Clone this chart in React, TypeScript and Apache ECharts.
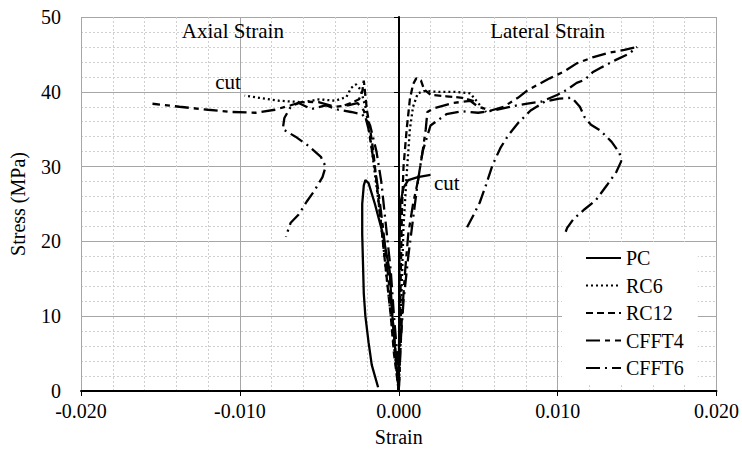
import React, { useEffect, useRef } from "react";
import * as echarts from "echarts";

type P = [number, number];

// ---------- data (strain, stress MPa) ----------
const specimenNames = ["PC", "RC6", "RC12", "CFFT4", "CFFT6"];

const pcAxial: P[] = [
  [0, 0], [-0.0002, 5], [-0.0004, 10], [-0.00057, 16], [-0.001, 21], [-0.0015, 25],
  [-0.0019, 27.8], [-0.0021, 28.2], [-0.0022, 27.5], [-0.0023, 25], [-0.0023, 21],
  [-0.00225, 17], [-0.0022, 13], [-0.0021, 10], [-0.0019, 6.5], [-0.0017, 3.5], [-0.0013, 0.5],
];
const pcLateral: P[] = [
  [0, 0], [0.00003, 10], [0.00005, 20], [0.0001, 25], [0.0003, 27.2], [0.0006, 28.2],
  [0.0012, 28.6], [0.002, 28.9],
];

const rc6Axial: P[] = [
  [0, 0], [-0.0003, 6], [-0.0006, 12], [-0.0009, 18], [-0.0012, 24], [-0.0015, 29],
  [-0.0018, 34], [-0.0021, 38], [-0.0024, 40.3], [-0.0027, 41], [-0.003, 40.5],
  [-0.0033, 39.3], [-0.004, 38.8], [-0.005, 39], [-0.006, 38.6], [-0.0075, 38.8],
  [-0.0088, 39.2], [-0.0097, 39.5],
];
const rc6Lateral: P[] = [
  [0, 0], [0.0001, 8], [0.0002, 15], [0.0003, 22], [0.0005, 29], [0.0007, 35],
  [0.0009, 38], [0.0012, 39.8], [0.0016, 40.1], [0.0025, 40], [0.0035, 40],
  [0.0045, 39.8], [0.005, 38.5], [0.0055, 37.3],
];

const rc12Axial: P[] = [
  [0, 0], [-0.0003, 5], [-0.0005, 10], [-0.0008, 16], [-0.0011, 22], [-0.0014, 28],
  [-0.0016, 32], [-0.0018, 35], [-0.002, 37.5], [-0.0021, 39.5], [-0.0022, 41.5],
  [-0.0023, 40], [-0.0025, 39], [-0.003, 38.5], [-0.0034, 38.2],
];
const rc12Lateral: P[] = [
  [0, 0], [0.00005, 6], [0.0001, 12], [0.00015, 18], [0.0002, 24], [0.0003, 30],
  [0.0005, 35], [0.0007, 39], [0.0009, 41], [0.0011, 41.8], [0.0014, 41.5],
  [0.0016, 40.3], [0.002, 39.6], [0.003, 39.4], [0.004, 39.2], [0.0048, 38.7],
];

const cfft4Axial: P[] = [
  [0, 0], [-0.0002, 5], [-0.0004, 10], [-0.0007, 16], [-0.001, 22], [-0.0013, 27],
  [-0.0016, 31], [-0.0019, 35], [-0.0022, 37.5], [-0.0026, 38.5], [-0.0032, 38.2],
  [-0.004, 38], [-0.005, 38.6], [-0.006, 38.7], [-0.0068, 38.2], [-0.0078, 37.6],
  [-0.009, 37.2], [-0.0105, 37.3], [-0.012, 37.6], [-0.0138, 38], [-0.0155, 38.4],
];
const cfft4Lateral: P[] = [
  [0, 0], [0.0001, 5], [0.0002, 10], [0.0004, 16], [0.0006, 21], [0.0009, 25],
  [0.0012, 28], [0.0015, 32], [0.0017, 35], [0.0018, 37.3], [0.0022, 37.8],
  [0.0034, 38.5], [0.0045, 38.8], [0.005, 38], [0.0058, 37.5], [0.0066, 38],
  [0.0075, 39.2], [0.0081, 40.2], [0.0088, 41], [0.0095, 41.8], [0.0104, 42.7],
  [0.0112, 43.8], [0.0122, 44.6], [0.0132, 45.2], [0.0142, 45.6], [0.015, 46],
];

const cfft6Axial: P[] = [
  [0, 0], [-0.0001, 5], [-0.0003, 10], [-0.0005, 16], [-0.0008, 22], [-0.0011, 28],
  [-0.0014, 32], [-0.0018, 35.5], [-0.0023, 37], [-0.003, 37.3], [-0.0038, 37.6],
  [-0.0046, 38.2], [-0.0055, 37.7], [-0.0063, 38.5], [-0.0068, 38], [-0.0072, 36.5],
  [-0.0073, 35], [-0.0065, 34], [-0.0057, 32.8], [-0.0049, 31.3], [-0.0046, 30],
  [-0.0048, 28.6], [-0.0053, 26.8], [-0.0058, 25.3], [-0.0063, 23.6], [-0.0068, 22.5],
  [-0.007, 21.3], [-0.0071, 20.6],
];
const cfft6Lateral: P[] = [
  [0, 0], [0.0001, 6], [0.0003, 12], [0.0006, 18], [0.0009, 23], [0.0012, 28],
  [0.0015, 32], [0.002, 35.5], [0.003, 37], [0.004, 37.4], [0.005, 37.2], [0.006, 37.5],
  [0.007, 38], [0.008, 38.4], [0.009, 38.7], [0.01, 39.6], [0.0106, 40.3], [0.0112, 41.2],
  [0.0117, 41.6], [0.0122, 42.6], [0.0128, 43.3], [0.0137, 44.3], [0.0145, 45.1], [0.015, 46],
];
const cfft6LateralB: P[] = [
  [0.0043, 21.9], [0.0047, 23.5], [0.0051, 25.2], [0.0055, 27.6], [0.0059, 30.2],
  [0.0064, 32.5], [0.0069, 34.2], [0.0075, 35.8], [0.0083, 37.5], [0.0092, 38.7],
  [0.0101, 39.1], [0.0109, 39.2], [0.0114, 38], [0.0117, 36.6], [0.0121, 35.6],
  [0.0127, 34.8], [0.0134, 33.3], [0.0139, 31.8], [0.014, 30.7], [0.0137, 29.3],
  [0.0131, 27.5], [0.0124, 25.5], [0.0117, 24.3], [0.011, 23], [0.0106, 21.8], [0.0104, 20.7],
];

// axis ranges
const xMin = -0.02, xMax = 0.02, xStep = 0.01;
const yMin = 0, yMax = 50, yStep = 10;

// text annotations in data coordinates
const annotations: { text: string; x: number; y: number }[] = [
  { text: "Axial Strain", x: -0.01044, y: 48.1 },
  { text: "Lateral Strain", x: 0.00937, y: 48.1 },
  { text: "cut", x: -0.01075, y: 41.3 },
  { text: "cut", x: 0.00302, y: 27.8 },
];

const FONT = "Liberation Serif";
const FS = 20;

const dashStyles: Record<string, any> = {
  PC: "solid",
  RC6: [2, 3],
  RC12: [7, 4],
  CFFT4: [14, 5, 5, 5],
  CFFT6: [14, 5, 2, 5],
};

const seriesSets: { name: string; data: P[] }[] = [
  { name: "PC", data: pcAxial },
  { name: "PC", data: pcLateral },
  { name: "RC6", data: rc6Axial },
  { name: "RC6", data: rc6Lateral },
  { name: "RC12", data: rc12Axial },
  { name: "RC12", data: rc12Lateral },
  { name: "CFFT4", data: cfft4Axial },
  { name: "CFFT4", data: cfft4Lateral },
  { name: "CFFT6", data: cfft6Axial },
  { name: "CFFT6", data: cfft6Lateral },
  { name: "CFFT6", data: cfft6LateralB },
];

export default function App() {
  const ref = useRef<HTMLDivElement>(null);
  useEffect(() => {
    if (!ref.current) return;
    const chart = echarts.init(ref.current, undefined, { renderer: "svg" });
    const gridLeft = 81, gridRight = 25;
    const plotW = 742 - gridLeft - gridRight;
    const axisText = { fontFamily: FONT, fontSize: FS, color: "#000" };
    const option: any = {
      animation: false,
      backgroundColor: "#fff",
      textStyle: { fontFamily: FONT, fontSize: FS },
      grid: { left: gridLeft, right: gridRight, top: 17, bottom: 63, containLabel: false },
      xAxis: {
        type: "value",
        min: xMin,
        max: xMax,
        interval: xStep,
        name: "Strain",
        nameLocation: "middle",
        nameGap: 36,
        nameTextStyle: axisText,
        axisLine: { onZero: false, lineStyle: { color: "#000", width: 2 } },
        axisTick: { show: true, length: 5, lineStyle: { color: "#000", width: 1 } },
        axisLabel: { ...axisText, margin: 10, formatter: (v: number) => v.toFixed(3) },
        splitLine: { show: true, lineStyle: { color: "#a6a6a6", width: 1 } },
        minorTick: { show: false, splitNumber: 5 },
        minorSplitLine: { show: true, lineStyle: { color: "#cfcfcf", width: 1, type: [2, 2] } },
      },
      yAxis: [
        {
          type: "value",
          min: yMin,
          max: yMax,
          interval: yStep,
          name: "Stress (MPa)",
          nameLocation: "middle",
          nameGap: 53,
          nameTextStyle: axisText,
          axisLine: { show: false },
          axisTick: { show: false },
          axisLabel: { ...axisText, margin: 20 },
          splitLine: { show: true, lineStyle: { color: "#a6a6a6", width: 1 } },
          minorTick: { show: false, splitNumber: 5 },
          minorSplitLine: { show: true, lineStyle: { color: "#cfcfcf", width: 1, type: [2, 2] } },
        },
        {
          type: "value",
          min: yMin,
          max: yMax,
          interval: yStep,
          position: "left",
          offset: -plotW / 2,
          axisLine: { show: true, onZero: false, lineStyle: { color: "#000", width: 2 } },
          axisTick: { show: true, length: 5, lineStyle: { color: "#000", width: 1 } },
          axisLabel: { show: false },
          splitLine: { show: false },
        },
      ],
      legend: {
        orient: "vertical",
        left: 562,
        top: 242,
        data: specimenNames,
        backgroundColor: "#fff",
        padding: [6, 14, 6, 23],
        itemWidth: 35,
        itemHeight: 14,
        itemGap: 7.5,
        itemStyle: { opacity: 0, borderWidth: 0 },
        textStyle: { ...axisText },
      },
      series: seriesSets.map((s) => ({
        type: "line",
        name: s.name,
        data: s.data,
        xAxisIndex: 0,
        yAxisIndex: 0,
        symbol: "none",
        showSymbol: false,
        smooth: false,
        lineStyle: { color: "#000", width: 2.3, type: dashStyles[s.name] },
        itemStyle: { color: "#000", opacity: 0 },
        z: 3,
      })),
    };
    chart.setOption(option);
    const graphics = annotations.map((a) => {
      const p = chart.convertToPixel({ seriesIndex: 0 }, [a.x, a.y]) as number[];
      return {
        type: "text",
        x: p[0],
        y: p[1],
        silent: true,
        style: {
          text: a.text,
          fill: "#000",
          fontFamily: FONT,
          fontSize: 21,
          textAlign: "center",
          textVerticalAlign: "middle",
          align: "center",
          verticalAlign: "middle",
        },
      };
    });
    chart.setOption({ graphic: graphics });
    return () => chart.dispose();
  }, []);
  return (
    <div
      ref={ref}
      style={{ position: "absolute", left: 0, top: 0, width: 742, height: 454, background: "#fff", fontFamily: FONT }}
    />
  );
}
